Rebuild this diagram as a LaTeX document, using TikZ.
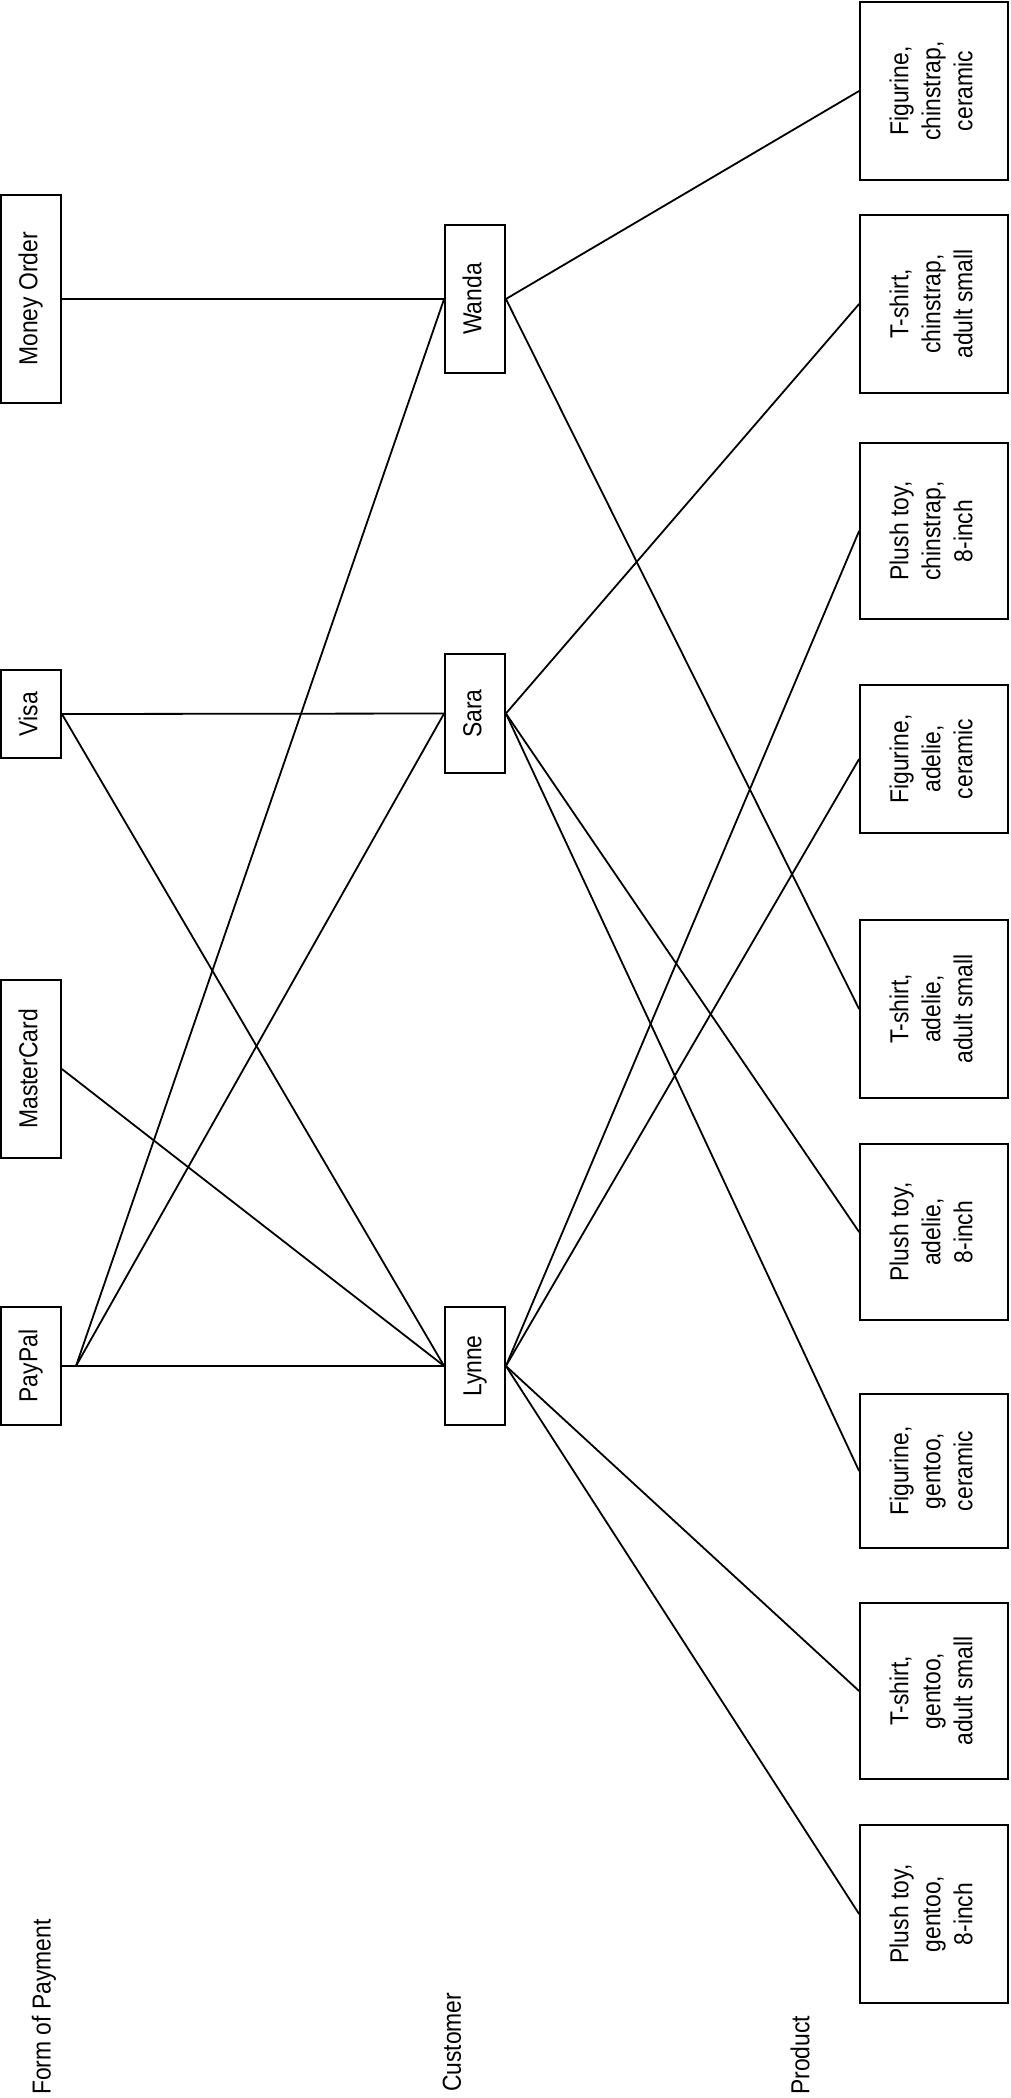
\documentclass[tikz,border=0pt]{standalone}
\usepackage{graphicx}
\usepackage{fontspec}
\setmainfont[FakeStretch=0.88]{Liberation Sans}
\begin{document}
\begin{tikzpicture}[x=1pt,y=-1pt,
  box/.style={draw, line width=1.8pt, inner sep=0pt, align=center, font=\fontsize{26}{32}\selectfont},
  pay/.style={box, minimum width=60pt},
  cust/.style={box, minimum width=60pt},
  prod/.style={box, minimum width=148pt},
  lbl/.style={rotate=90, anchor=west, inner sep=0pt, font=\fontsize{26}{32}\selectfont},
  conn/.style={line width=1.8pt}]
\useasboundingbox (0,0) rectangle (1010,2098);
\newcommand{\rt}[1]{\rotatebox{90}{\begin{tabular}{@{}c@{}}#1\end{tabular}}}
\renewcommand{\arraystretch}{1.0}
% Form of payment
\node[pay, minimum height=208pt] (mo) at (31,299) {\rt{Money Order}};
\node[pay, minimum height=88pt] (visa) at (31,714) {\rt{Visa}};
\node[pay, minimum height=178pt] (mc) at (31,1069) {\rt{MasterCard}};
\node[pay, minimum height=118pt] (pp) at (31,1366) {\rt{PayPal}};
% Customers
\node[cust, minimum height=148pt] (wanda) at (475,299) {\rt{Wanda}};
\node[cust, minimum height=119pt] (sara) at (475,713.5) {\rt{Sara}};
\node[cust, minimum height=118pt] (lynne) at (475,1366) {\rt{Lynne}};
% Products
\node[prod, minimum height=178pt] (p1) at (934,91) {\rt{Figurine,\\chinstrap,\\ceramic}};
\node[prod, minimum height=178pt] (p2) at (934,304) {\rt{T-shirt,\\chinstrap,\\adult small}};
\node[prod, minimum height=176pt] (p3) at (934,531) {\rt{Plush toy,\\chinstrap,\\8-inch}};
\node[prod, minimum height=148pt] (p4) at (934,759) {\rt{Figurine,\\adelie,\\ceramic}};
\node[prod, minimum height=178pt] (p5) at (934,1009) {\rt{T-shirt,\\adelie,\\adult small}};
\node[prod, minimum height=176pt] (p6) at (934,1232) {\rt{Plush toy,\\adelie,\\8-inch}};
\node[prod, minimum height=154pt] (p7) at (934,1471) {\rt{Figurine,\\gentoo,\\ceramic}};
\node[prod, minimum height=176pt] (p8) at (934,1691) {\rt{T-shirt,\\gentoo,\\adult small}};
\node[prod, minimum height=178pt] (p9) at (934,1914) {\rt{Plush toy,\\gentoo,\\8-inch}};
% Column labels
\node[lbl] (l1) at (44,2095) {Form of Payment};
\node[lbl] (l2) at (452,2092) {Customer};
\node[lbl] (l3) at (800,2095) {Product};
% Connectors
\coordinate (ppj) at (76,1366);
\draw[conn] (mo.east) -- (wanda.west);
\draw[conn] (visa.east) -- (sara.west);
\draw[conn] (visa.east) -- (lynne.west);
\draw[conn] (mc.east) -- (lynne.west);
\draw[conn] (pp.east) -- (lynne.west);
\draw[conn] (ppj) -- (sara.west);
\draw[conn] (ppj) -- (wanda.west);
\draw[conn] (wanda.east) -- (p1.west);
\draw[conn] (wanda.east) -- (p5.west);
\draw[conn] (sara.east) -- (p2.west);
\draw[conn] (sara.east) -- (p6.west);
\draw[conn] (sara.east) -- (p7.west);
\draw[conn] (lynne.east) -- (p3.west);
\draw[conn] (lynne.east) -- (p4.west);
\draw[conn] (lynne.east) -- (p8.west);
\draw[conn] (lynne.east) -- (p9.west);
\end{tikzpicture}
\end{document}
